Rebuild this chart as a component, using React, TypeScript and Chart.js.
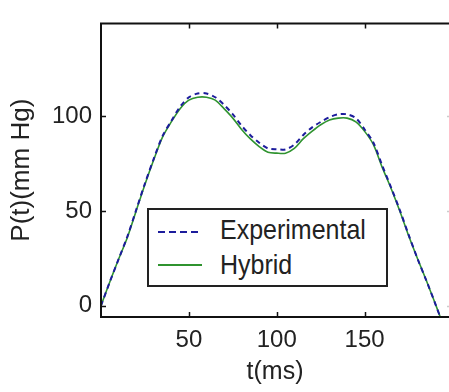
import React, { useEffect, useRef } from 'react';
import { Chart, registerables } from 'chart.js';

Chart.register(...registerables);

// ---- data ----
const timeMs = [0, 5, 10, 15, 20, 25, 30, 35, 40, 45, 50, 55, 60, 65, 70, 75, 80, 85, 90, 95, 100, 105, 110, 115, 120, 125, 130, 135, 140, 145, 150, 155, 160, 165, 170, 175, 180, 185, 190, 193];
const experimental = [0, 12.5, 24.5, 36.5, 50.5, 64.5, 77.5, 89.5, 97.5, 105, 110, 112, 112, 110, 106, 101, 95, 90, 86, 83, 82.5, 82.5, 85, 90, 94, 97, 99.5, 101, 101, 99, 93, 86, 74, 62.5, 50.5, 37.5, 25, 13.5, 1.5, -6];
const hybrid = [0, 12.5, 24.5, 36, 50, 64, 77, 89, 97, 104, 108.5, 110, 110, 108.5, 104, 99, 93, 88, 84, 81, 80.5, 80.5, 83, 88, 92, 95.5, 98, 99, 99, 97, 92, 85, 73, 62, 50, 37, 25, 13.5, 1.5, -6];
const seriesNames = ['Experimental', 'Hybrid'];
const xTicks = [50, 100, 150];
const yTicks = [0, 50, 100];
const xTitle = 't(ms)';
const yTitle = 'P(t)(mm Hg)';

const FONT = '"Liberation Sans", Arial, sans-serif';
const BLUE = '#1c1c9c';
const GREEN = '#2f932f';
const INK = '#222';

const framePlugin = {
  id: 'matlabFrame',
  afterDatasetsDraw(chart: any) {
    const { ctx, chartArea: a, scales } = chart;
    const x = scales.x;
    const y = scales.y;
    ctx.save();
    ctx.strokeStyle = '#111';
    ctx.lineWidth = 2;
    ctx.beginPath();
    ctx.moveTo(a.right + 2, a.top);
    ctx.lineTo(a.left, a.top);
    ctx.lineTo(a.left, a.bottom);
    ctx.lineTo(a.right + 2, a.bottom);
    ctx.stroke();
    ctx.lineWidth = 1.5;
    ctx.beginPath();
    for (const t of xTicks) {
      const px = Math.round(x.getPixelForValue(t)) + 0.5;
      ctx.moveTo(px, a.bottom);
      ctx.lineTo(px, a.bottom - 5);
      ctx.moveTo(px, a.top);
      ctx.lineTo(px, a.top + 5);
    }
    for (const v of yTicks) {
      const py = Math.round(y.getPixelForValue(v)) + 0.5;
      ctx.moveTo(a.left, py);
      ctx.lineTo(a.left + 5, py);
    }
    ctx.stroke();
    ctx.strokeStyle = '#ccc';
    ctx.beginPath();
    for (const v of yTicks) {
      const py = Math.round(y.getPixelForValue(v)) + 0.5;
      ctx.moveTo(a.right - 2, py);
      ctx.lineTo(a.right, py);
    }
    ctx.stroke();
    ctx.restore();
  },
};

export default function App() {
  const canvasRef = useRef<HTMLCanvasElement | null>(null);

  useEffect(() => {
    const canvas = canvasRef.current;
    if (!canvas) return;
    const chart = new Chart(canvas, {
      type: 'line',
      data: {
        datasets: [
          {
            label: seriesNames[0],
            data: timeMs.map((t, i) => ({ x: t, y: experimental[i] })),
            borderColor: BLUE,
            borderWidth: 2,
            borderDash: [5, 4],
            pointRadius: 0,
            tension: 0.3,
            fill: false,
          },
          {
            label: seriesNames[1],
            data: timeMs.map((t, i) => ({ x: t, y: hybrid[i] })),
            borderColor: GREEN,
            borderWidth: 1.6,
            pointRadius: 0,
            tension: 0.3,
            fill: false,
          },
        ],
      },
      options: {
        animation: false,
        responsive: false,
        maintainAspectRatio: false,
        layout: { padding: { top: 12, right: 0, left: 0, bottom: 0 } },
        plugins: {
          legend: { display: false },
          tooltip: { enabled: false },
        },
        scales: {
          x: {
            type: 'linear',
            min: 0,
            max: 198,
            grid: { display: false, drawTicks: false },
            border: { display: false },
            afterBuildTicks: (scale: any) => {
              scale.ticks = xTicks.map((v) => ({ value: v }));
            },
            afterFit: (scale: any) => {
              scale.height = 75;
            },
            ticks: {
              color: INK,
              padding: 9,
              font: { family: FONT, size: 24 },
              maxRotation: 0,
            },
            title: {
              display: true,
              text: xTitle,
              color: INK,
              padding: { top: 0, bottom: 5 },
              font: { family: FONT, size: 25 },
            },
          },
          y: {
            type: 'linear',
            min: -6,
            max: 149,
            grid: { display: false, drawTicks: false },
            border: { display: false },
            afterBuildTicks: (scale: any) => {
              scale.ticks = yTicks.map((v) => ({ value: v }));
            },
            afterFit: (scale: any) => {
              scale.width = 101;
            },
            ticks: {
              color: INK,
              padding: 9,
              font: { family: FONT, size: 24 },
            },
            title: {
              display: true,
              text: yTitle,
              color: INK,
              padding: { top: 6, bottom: 0 },
              font: { family: FONT, size: 26 },
            },
          },
        },
      },
      plugins: [framePlugin],
    });
    return () => chart.destroy();
  }, []);

  const textStyle: React.CSSProperties = {
    position: 'absolute',
    left: 71,
    fontFamily: FONT,
    fontSize: 25,
    lineHeight: '25px',
    color: INK,
    whiteSpace: 'nowrap',
    transform: 'scaleY(1.12)',
    transformOrigin: 'left bottom',
  };

  return (
    <div style={{ position: 'fixed', left: 0, top: 0, width: 449, height: 392, background: '#fff', overflow: 'hidden' }}>
      <canvas ref={canvasRef} width={449} height={392} style={{ display: 'block' }} />
      <div
        style={{
          position: 'absolute',
          left: 147,
          top: 208,
          width: 237,
          height: 75,
          border: '2px solid #222',
          background: '#fff',
        }}
      >
        <svg width={60} height={75} style={{ position: 'absolute', left: 0, top: 0 }}>
          <line x1={9} y1={22} x2={53} y2={22} stroke={BLUE} strokeWidth={2} strokeDasharray="7 4" />
          <line x1={9} y1={55} x2={53} y2={55} stroke={GREEN} strokeWidth={2} />
        </svg>
        <span style={{ ...textStyle, top: 8 }}>{seriesNames[0]}</span>
        <span style={{ ...textStyle, top: 43 }}>{seriesNames[1]}</span>
      </div>
    </div>
  );
}
